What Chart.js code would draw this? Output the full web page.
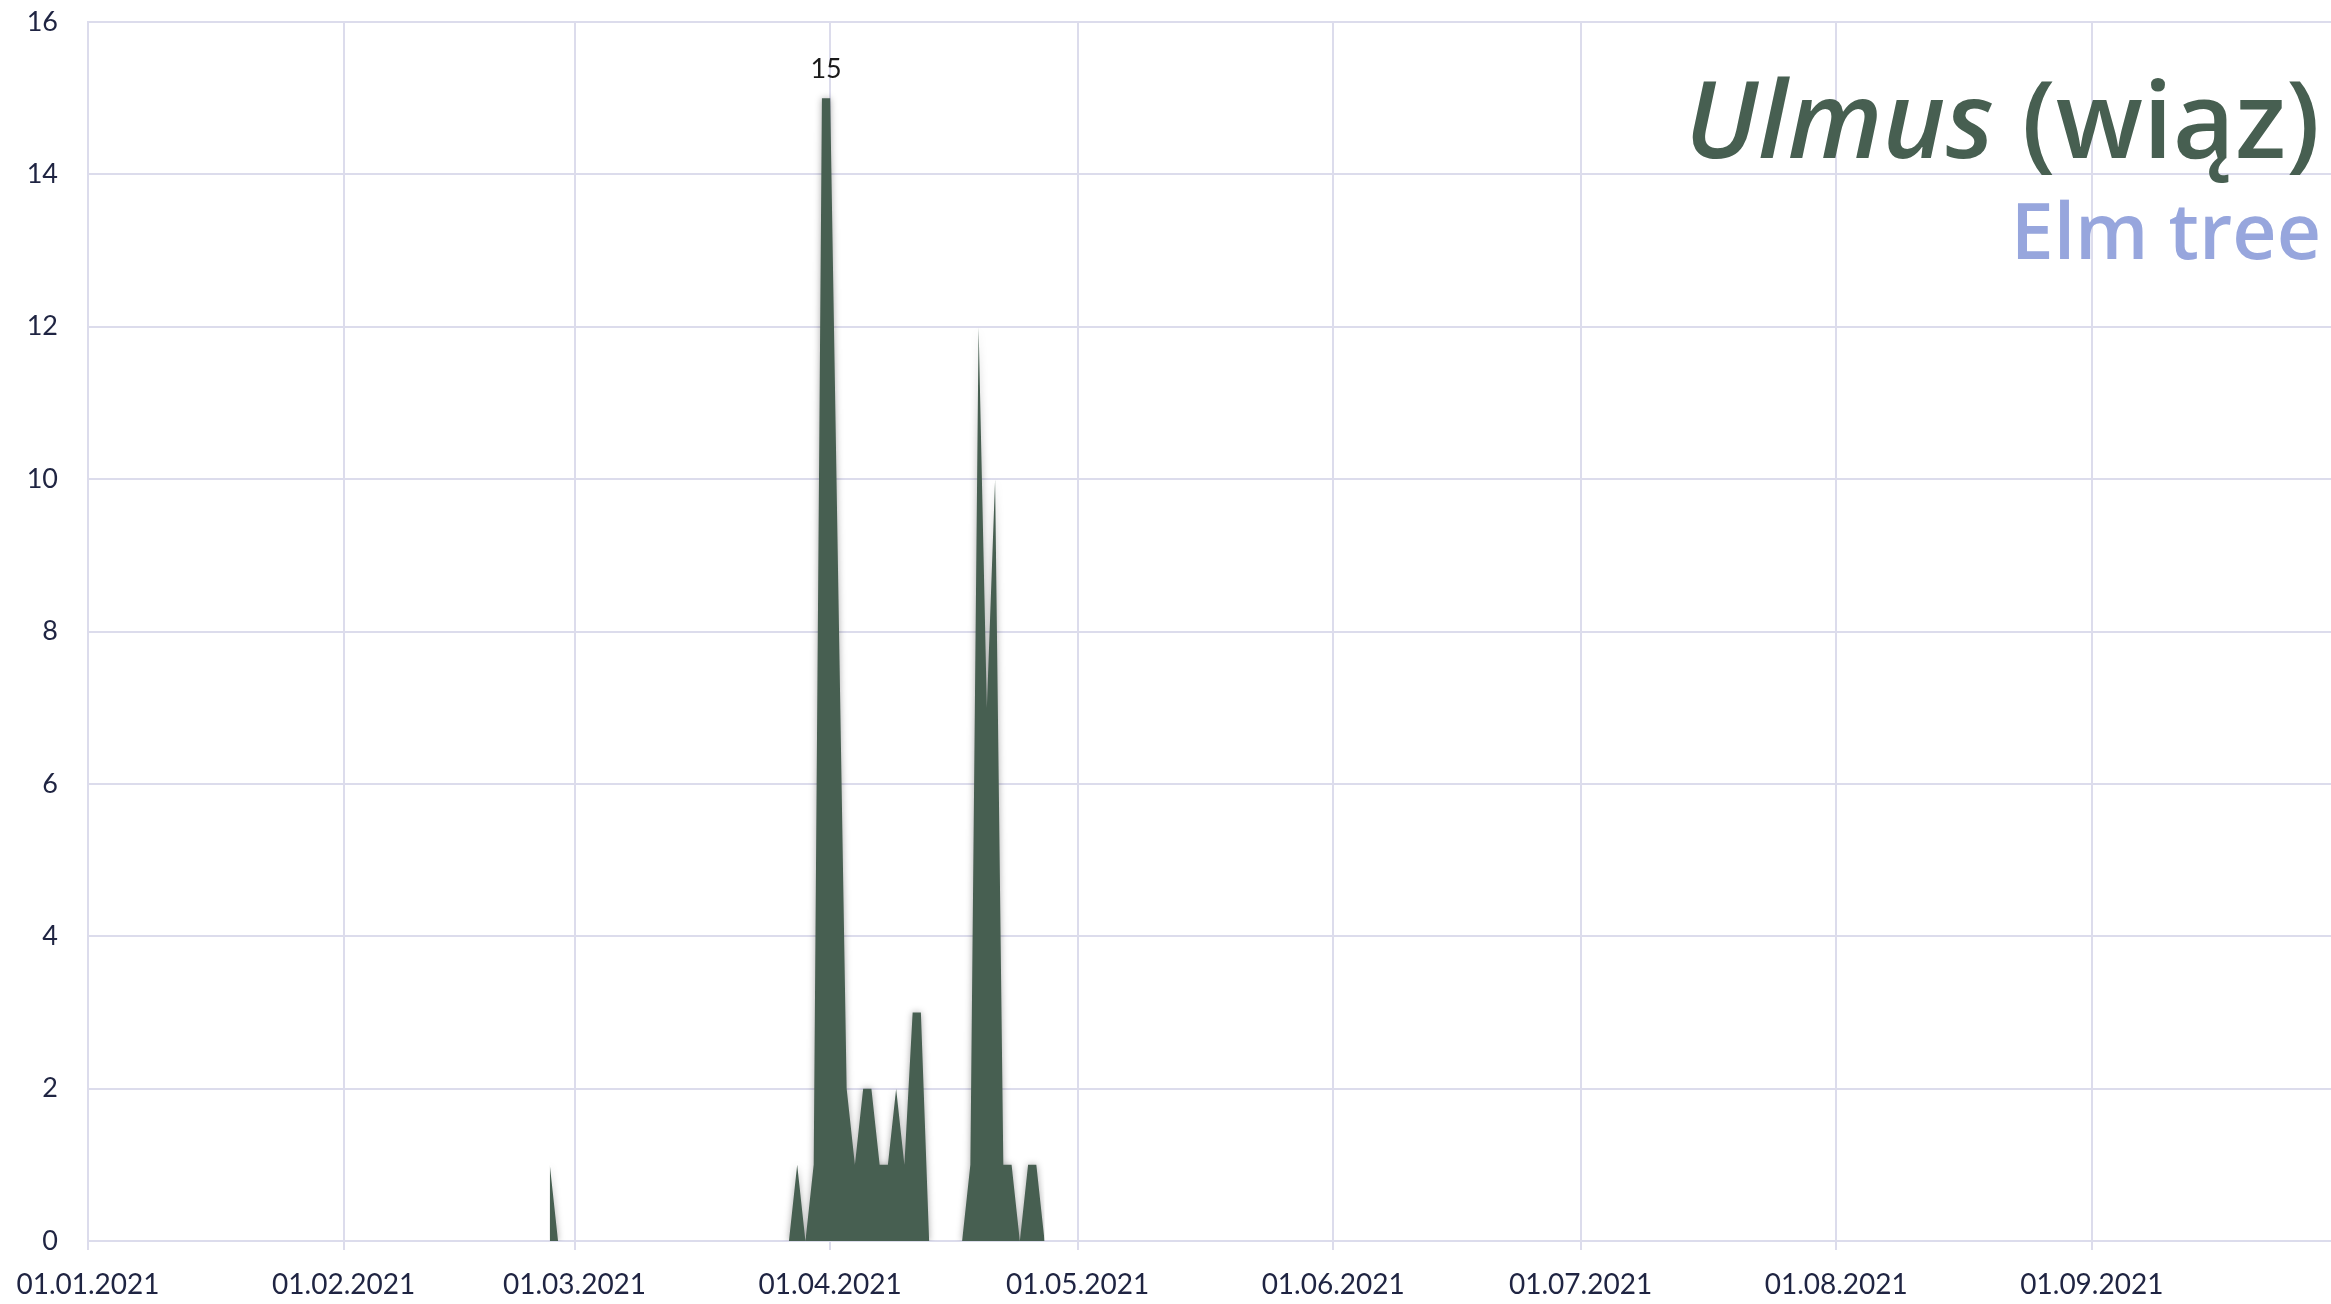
<!DOCTYPE html>
<html>
<head>
<meta charset="utf-8">
<script src="https://cdn.jsdelivr.net/npm/chart.js@4.4.0/dist/chart.umd.min.js"></script>
<style>
  body { margin: 0; background: #fff; }
  #wrap { width: 2331px; height: 1304px; }
</style>
</head>
<body>
<div id="wrap"><canvas id="myChart" width="2331" height="1304"></canvas></div>
<script>
// pollen counts (days with data only)
var days = [
  "26.02.2021", "27.02.2021",
  "27.03.2021", "28.03.2021", "29.03.2021", "30.03.2021", "31.03.2021", "01.04.2021",
  "03.04.2021", "04.04.2021", "05.04.2021", "06.04.2021", "07.04.2021", "08.04.2021",
  "09.04.2021", "10.04.2021", "11.04.2021", "12.04.2021", "13.04.2021",
  "17.04.2021", "18.04.2021", "19.04.2021", "20.04.2021", "21.04.2021", "22.04.2021",
  "23.04.2021", "24.04.2021", "25.04.2021", "26.04.2021", "27.04.2021"
];
var counts = [
  1, 0,
  0, 1, 0, 1, 15, 15,
  2, 1, 2, 2, 1, 1,
  2, 1, 3, 3, 0,
  0, 1, 12, 7, 10, 1,
  1, 0, 1, 1, 0
];
var yTicks = [0, 2, 4, 6, 8, 10, 12, 14, 16];
var titleLatin = "Ulmus";
var titleLocal = " (wiąz)";
var subtitle = "Elm tree";

// every day of the season as category labels
var labels = [];
var d = new Date(2021, 0, 1);
while (d <= new Date(2021, 8, 30)) {
  var dd = ("0" + d.getDate()).slice(-2);
  var mm = ("0" + (d.getMonth() + 1)).slice(-2);
  labels.push(dd + "." + mm + "." + d.getFullYear());
  d.setDate(d.getDate() + 1);
}

var points = [];
for (var i = 0; i < days.length; i++) {
  points.push({ x: days[i], y: counts[i] });
}

var green = "#475f51";
var gridColor = "#dcdcec";
var tickColor = "#1f2442";

var shadowPlugin = {
  id: "fillShadow",
  beforeDatasetsDraw: function (chart) {
    var c = chart.ctx;
    c.save();
    c.shadowColor = "rgba(0,0,0,0.35)";
    c.shadowBlur = 7;
  },
  afterDatasetsDraw: function (chart) {
    chart.ctx.restore();
  }
};

var maxLabelPlugin = {
  id: "maxLabel",
  afterDatasetsDraw: function (chart) {
    var max = Math.max.apply(null, counts);
    var first = counts.indexOf(max);
    var last = counts.lastIndexOf(max);
    var xs = chart.scales.x, ys = chart.scales.y;
    var x1 = xs.getPixelForValue(labels.indexOf(days[first]));
    var x2 = xs.getPixelForValue(labels.indexOf(days[last]));
    var c = chart.ctx;
    c.save();
    c.fillStyle = "#1a1a1a";
    c.font = "27px Lato";
    c.textAlign = "center";
    c.textBaseline = "alphabetic";
    c.fillText(String(max), (x1 + x2) / 2, ys.getPixelForValue(max) - 20);
    c.restore();
  }
};

var titlePlugin = {
  id: "cornerTitle",
  afterDraw: function (chart) {
    var c = chart.ctx;
    var right = 2320;
    c.save();
    c.textBaseline = "alphabetic";
    c.textAlign = "left";
    c.fillStyle = green;
    c.font = '600 107px "Open Sans"';
    var wLocal = c.measureText(titleLocal).width;
    c.font = 'italic 600 107px "Open Sans"';
    var wLatin = c.measureText(titleLatin).width;
    var x0 = right - wLocal - wLatin;
    c.fillText(titleLatin, x0, 158);
    c.font = '600 107px "Open Sans"';
    c.fillText(titleLocal, x0 + wLatin, 158);
    c.fillStyle = "#97a6dd";
    c.font = '600 77px "Open Sans"';
    c.textAlign = "right";
    c.fillText(subtitle, right + 1, 259);
    c.restore();
  }
};

var ctx = document.getElementById("myChart").getContext("2d");
var myChart = new Chart(ctx, {
  type: "line",
  data: {
    labels: labels,
    datasets: [
      {
        label: "Ulmus",
        data: points,
        fill: "origin",
        backgroundColor: green,
        borderColor: green,
        borderWidth: 0,
        pointRadius: 0,
        tension: 0,
      },
    ],
  },
  options: {
    responsive: false,
    animation: false,
    events: [],
    plugins: {
      legend: { display: false },
      tooltip: { enabled: false },
    },
    layout: {
      padding: { top: 22, right: 0, left: 0, bottom: 0 },
    },
    scales: {
      x: {
        type: "category",
        offset: false,
        grid: { color: gridColor, lineWidth: 2, tickLength: 9, tickColor: gridColor },
        border: { color: gridColor, width: 2 },
        ticks: {
          autoSkip: false,
          maxRotation: 0,
          color: tickColor,
          font: { family: "Lato", size: 28 },
          padding: 18,
          callback: function (val, idx) {
            var l = labels[idx];
            return l.slice(0, 2) === "01" ? l : null;
          },
        },
        afterFit: function (scale) {
          scale.height = 63;
          scale.paddingLeft = 0;
          scale.paddingRight = 0;
        },
      },
      y: {
        min: 0,
        max: 16,
        afterBuildTicks: function (scale) {
          scale.ticks = yTicks.map(function (v) { return { value: v }; });
        },
        grid: { color: gridColor, lineWidth: 2, drawTicks: false },
        border: { color: gridColor, width: 2 },
        ticks: {
          color: tickColor,
          font: { family: "Lato", size: 27 },
          padding: 30,
        },
        afterFit: function (scale) {
          scale.width = 88;
          scale.paddingTop = 0;
          scale.paddingBottom = 0;
        },
      },
    },
  },
  plugins: [shadowPlugin, maxLabelPlugin, titlePlugin],
});
</script>
</body>
</html>
